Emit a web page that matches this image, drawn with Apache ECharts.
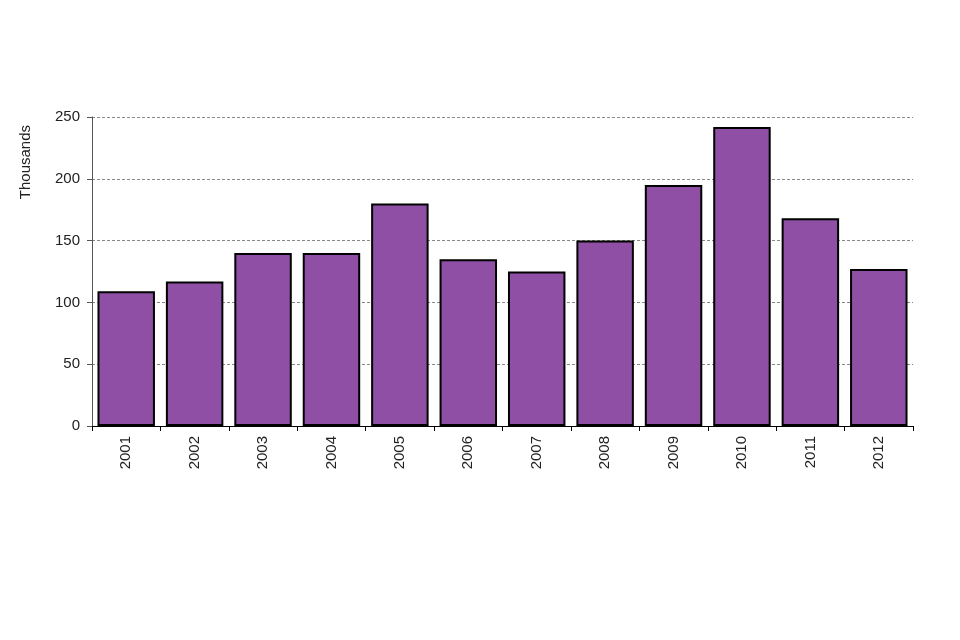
<!DOCTYPE html>
<html><head><meta charset="utf-8">
<script src="https://cdn.jsdelivr.net/npm/echarts@6/dist/echarts.min.js"></script>
<style>html,body{margin:0;padding:0;background:#fff}#c{width:960px;height:640px}</style>
</head><body><div id="c"></div>
<script>
var categories = ['2001','2002','2003','2004','2005','2006','2007','2008','2009','2010','2011','2012'];
var values = [109, 117, 140, 140, 180, 135, 125, 150, 195, 242, 168, 127];
var yTicks = [0, 50, 100, 150, 200, 250];
var yAxisTitle = 'Thousands';

var chart = echarts.init(document.getElementById('c'));
chart.setOption({
  animation: false,
  textStyle: {fontFamily: 'Liberation Sans, Arial, sans-serif'},
  grid: {left: 92, right: 47, top: 117, bottom: 214, containLabel: false},
  graphic: [{
    type: 'text', x: 18, y: 125, rotation: Math.PI / 2,
    style: {text: yAxisTitle, fill: '#222', font: '15px Liberation Sans, Arial, sans-serif', align: 'right', verticalAlign: 'top'}
  }],
  xAxis: {
    type: 'category', data: categories,
    axisLine: {lineStyle: {color: '#000', width: 1}},
    axisTick: {show: true, alignWithLabel: false, length: 5, lineStyle: {color: '#000'}},
    axisLabel: {rotate: 90, color: '#222', fontSize: 15, margin: 10}
  },
  yAxis: {
    type: 'value', min: yTicks[0], max: yTicks[yTicks.length - 1], interval: 50,
    axisLine: {show: true, lineStyle: {color: '#555', width: 1}},
    axisTick: {show: true, length: 5, lineStyle: {color: '#555'}},
    axisLabel: {color: '#222', fontSize: 15, margin: 12},
    splitLine: {show: true, lineStyle: {color: '#888', type: [3, 2], width: 1}}
  },
  series: [{
    type: 'bar', data: values, barCategoryGap: '16%',
    itemStyle: {color: '#8e4fa5', borderColor: '#000', borderWidth: 2}
  }]
});
</script></body></html>
